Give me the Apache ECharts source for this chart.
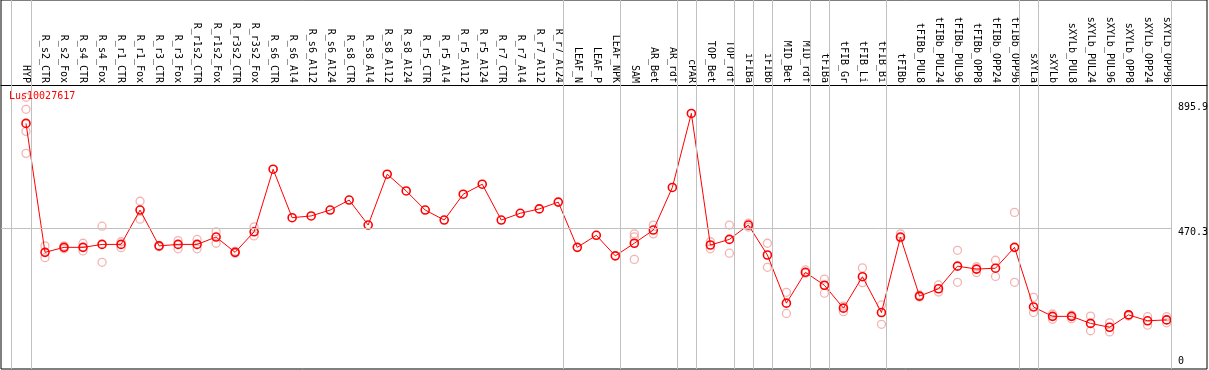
<!DOCTYPE html>
<html>
<head>
<meta charset="utf-8">
<script src="https://cdn.jsdelivr.net/npm/echarts@6.0.0/dist/echarts.min.js"></script>
<style>
  html, body { margin: 0; padding: 0; background: #fff; }
  #chart { width: 1209px; height: 370px; }
</style>
</head>
<body>
<div id="chart"></div>
<script>
const categories = [
  'HYP',
  'R_s2_CTR', 'R_s2_Fox', 'R_s4_CTR', 'R_s4_Fox', 'R_r1_CTR', 'R_r1_Fox', 'R_r3_CTR', 'R_r3_Fox',
  'R_r1s2_CTR', 'R_r1s2_Fox', 'R_r3s2_CTR', 'R_r3s2_Fox',
  'R_s6_CTR', 'R_s6_Al4', 'R_s6_Al12', 'R_s6_Al24', 'R_s8_CTR', 'R_s8_Al4', 'R_s8_Al12', 'R_s8_Al24',
  'R_r5_CTR', 'R_r5_Al4', 'R_r5_Al12', 'R_r5_Al24', 'R_r7_CTR', 'R_r7_Al4', 'R_r7_Al12', 'R_r7_Al24',
  'LEAF_N', 'LEAF_P', 'LEAF_NPK', 'SAM', 'AR_Bet', 'AR_rdf', 'cPAR', 'TOP_Bet', 'TOP_rdf',
  'iFIBa', 'iFIBb', 'MID_Bet', 'MID_rdf', 'tFIBa', 'tFIB_Gr', 'tFIB_Li', 'tFIB_Bi',
  'tFIBb', 'tFIBb_PUL8', 'tFIBb_PUL24', 'tFIBb_PUL96', 'tFIBb_OPP8', 'tFIBb_OPP24', 'tFIBb_OPP96',
  'sXYLa', 'sXYLb', 'sXYLb_PUL8', 'sXYLb_PUL24', 'sXYLb_PUL96', 'sXYLb_OPP8', 'sXYLb_OPP24', 'sXYLb_OPP96'
];

// mean expression per sample
const means = [
  826,
  387, 404, 404, 414, 414, 531, 409, 414,
  414, 439, 387, 457,
  670, 505, 511, 531, 565, 480, 653, 596,
  531, 497, 585, 619, 497, 520, 535, 558,
  404, 445, 375, 418, 463, 608, 860, 412, 431,
  480, 378, 214, 319, 275, 197, 304, 182,
  439, 238, 263, 340, 330, 333, 404,
  201, 169, 169, 145, 132, 174, 154, 157
];

// individual replicates per sample (empty = none visible apart from the mean)
const replicates = [
  [915, 874, 799, 724],
  [409, 369], [409, 399], [418, 392], [476, 353], [423, 403], [561, 500], [411, 406], [427, 399],
  [431, 399], [457, 418], [391, 384], [474, 443],
  [], [], [], [], [], [], [], [],
  [], [], [], [], [], [], [], [],
  [], [], [], [450, 440, 363], [480, 450], [], [], [423, 399], [480, 384],
  [486, 473], [418, 336], [251, 179], [327, 316], [296, 248], [204, 185], [334, 284], [208, 142],
  [450, 436], [242, 235], [276, 252], [394, 285], [338, 318], [360, 305], [523, 285],
  [234, 182], [177, 159], [173, 161], [170, 120], [147, 116], [175, 170], [168, 139], [168, 147]
];

// sample index after which a group separator is drawn
const groupEnds = [-1, 0, 28, 31, 34, 35, 37, 38, 39, 41, 42, 45, 52, 53, 60];

const yTickValues = [0, 470.3, 895.9];
const seriesName = 'Lus10027617';

const RED = '#ff0000';
const PINK = '#f0a0a0';
const GREY = '#c0c0c0';
const FONT = 'DejaVu Sans Mono';

const chart = echarts.init(document.getElementById('chart'));

const lineData = means.map((v, i) => [i, v]);
const repData = [];
replicates.forEach((reps, i) => reps.forEach(v => repData.push([i, v])));

const separatorLines = groupEnds.map(i => ({ xAxis: i + 0.25 }));

chart.setOption({
  animation: false,
  title: {
    text: seriesName,
    left: 9,
    top: 91,
    padding: 0,
    textStyle: { color: RED, fontFamily: FONT, fontSize: 10, fontWeight: 'normal' }
  },
  grid: {
    left: 1, right: 2, top: 0, bottom: 1,
    outerBoundsMode: 'none',
    show: true,
    borderColor: '#000',
    borderWidth: 1,
    backgroundColor: '#fff'
  },
  xAxis: {
    type: 'value',
    position: 'top',
    offset: -85,
    min: -1.315,
    max: 62.125,
    axisLine: { show: true, onZero: false, lineStyle: { color: '#000', width: 1 } },
    axisTick: { show: false },
    splitLine: { show: false },
    axisLabel: {
      customValues: categories.map((c, i) => i),
      rotate: 90,
      margin: 2,
      color: '#000',
      fontFamily: FONT,
      fontSize: 10,
      formatter: v => categories[v] || ''
    }
  },
  yAxis: {
    type: 'value',
    position: 'right',
    min: -10.2,
    max: 1246.2,
    axisLine: { show: false },
    axisTick: { show: false },
    splitLine: { show: false },
    axisLabel: {
      customValues: yTickValues,
      inside: true,
      margin: 29,
      align: 'left',
      verticalAlign: 'top',
      verticalAlignMinLabel: 'bottom',
      color: '#000',
      fontFamily: FONT,
      fontSize: 10,
      formatter: v => String(v)
    }
  },
  series: [
    {
      name: 'guides',
      type: 'line',
      data: [],
      silent: true,
      z: 1,
      markLine: {
        silent: true,
        symbol: 'none',
        label: { show: false },
        lineStyle: { color: GREY, width: 1, type: 'solid' },
        emphasis: { disabled: true },
        data: separatorLines.concat([[
          { coord: [-1.315, yTickValues[1]] },
          { coord: [60.25, yTickValues[1]] }
        ]])
      }
    },
    {
      name: 'replicates',
      type: 'scatter',
      data: repData,
      symbol: 'circle',
      symbolSize: 8,
      silent: true,
      z: 2,
      itemStyle: { color: 'rgba(0,0,0,0)', borderColor: PINK, borderWidth: 1.3 }
    },
    {
      name: seriesName,
      type: 'line',
      data: lineData,
      symbol: 'circle',
      symbolSize: 8,
      showAllSymbol: true,
      z: 3,
      lineStyle: { color: RED, width: 1 },
      itemStyle: { color: 'rgba(0,0,0,0)', borderColor: RED, borderWidth: 1.6 }
    }
  ]
});
</script>
</body>
</html>
